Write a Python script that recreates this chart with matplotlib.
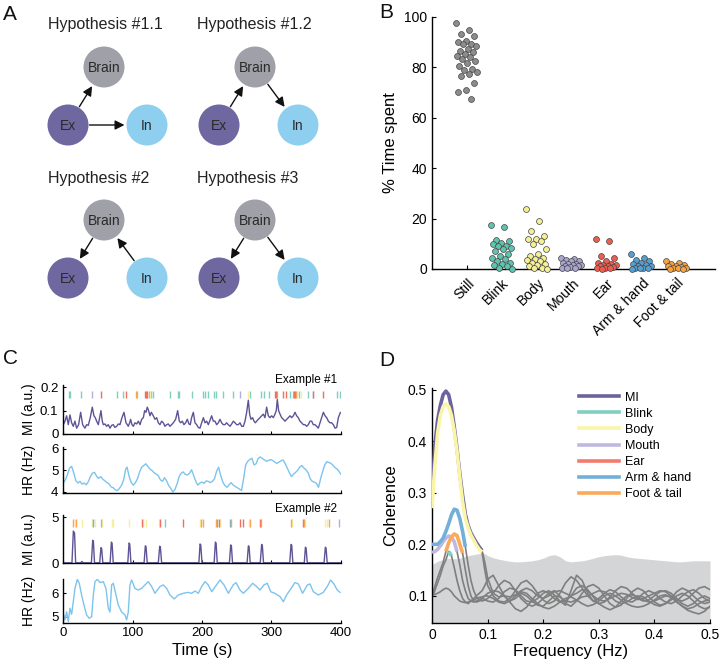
import numpy as np
import matplotlib
matplotlib.use("Agg")
import matplotlib.pyplot as plt
from matplotlib.patches import Circle, FancyArrowPatch
from matplotlib.lines import Line2D

plt.rcParams['font.family'] = ['Liberation Sans', 'DejaVu Sans']
plt.rcParams['xtick.direction'] = 'in'
plt.rcParams['ytick.direction'] = 'in'
plt.rcParams['axes.linewidth'] = 1.0

# ---------------- data ----------------
categories = ['Still', 'Blink', 'Body', 'Mouth', 'Ear', 'Arm & hand', 'Foot & tail']
point_colors = ['#8c8c8c', '#5fc4af', '#f5ef96', '#aaa4d0', '#ef5d50', '#569fd0', '#f7a243']

still_pct = [97.7, 94.7, 93.1, 92.5, 90.3, 90.0, 89.4, 89.3, 88.3, 87.3, 86.7, 86.3, 85.5,
             84.6, 84.0, 83.4, 82.4, 81.7, 80.4, 79.5, 78.8, 78.3, 77.5, 76.7, 74.0, 71.0,
             70.4, 67.6]
blink_pct = [17.5, 16.5, 11.5, 11.0, 10.5, 10.0, 9.0, 9.0, 8.5, 8.0, 7.0, 6.0, 5.0, 4.5,
             4.0, 3.0, 2.5, 2.0, 1.5, 1.0, 0.5, 0.0]
body_pct = [24.0, 19.0, 15.0, 13.0, 12.0, 12.0, 11.0, 10.0, 8.0, 6.0, 5.0, 4.5, 4.0, 3.5,
            3.0, 2.5, 2.0, 1.5, 1.0, 0.5, 0.3, 0.0]
mouth_pct = [4.5, 4.0, 3.5, 3.0, 3.0, 2.5, 2.0, 2.0, 1.5, 1.5, 1.0, 1.0, 0.8, 0.5, 0.3, 0.2]
ear_pct = [12.0, 11.0, 5.0, 4.5, 3.0, 2.5, 2.0, 1.5, 1.5, 1.0, 1.0, 0.8, 0.5, 0.3, 0.2, 0.0]
arm_pct = [6.0, 4.5, 3.5, 3.0, 2.5, 2.0, 1.5, 1.0, 1.0, 0.5, 0.5, 0.3, 0.2, 0.0]
foot_pct = [3.0, 2.5, 2.0, 1.5, 1.2, 1.0, 0.8, 0.5, 0.3, 0.2, 0.1, 0.0]
time_spent = [still_pct, blink_pct, body_pct, mouth_pct, ear_pct, arm_pct, foot_pct]

# Panel C, example 1
mi1_t = [0, 2.4, 4.8, 7.2, 9.6, 12, 14.4, 16.8, 19.2, 22.1, 25, 27.9, 31.2, 33.6, 36, 38.9,
         41.8, 44.2, 46.1, 48.1, 50.5, 52.4, 54.3, 56.2, 57.7, 60.1, 62.5, 64.9, 67.3, 69.7,
         72.1, 74.5, 76.9, 79.3, 81.7, 84.6, 87.5, 90.4, 92.3, 93.7, 95.7, 97.1, 99, 101,
         103.3, 105.8, 108.2, 110.6, 113, 115.4, 117.3, 119.2, 121.1, 123, 125, 126.9, 129.8,
         132.2, 134.6, 137, 139.4, 141.8, 144.2, 146.6, 149, 151.4, 153.8, 156.2, 158.6, 162,
         164.9, 167.3, 169.2, 171.6, 174, 176.4, 178.8, 181.2, 183.1, 185, 187.5, 189.9, 192.3,
         194.7, 197.1, 199.5, 202, 204.3, 206.7, 209.1, 211.5, 213.9, 216.3, 218.7, 221.1,
         223.5, 225.9, 228.3, 230.7, 233.1, 235.5, 237.9, 240.4, 242.8, 245.2, 247.6, 250,
         252.4, 254.8, 257.2, 259.6, 262, 264.4, 266.8, 268.7, 270.6, 273, 275, 276.9, 278.8,
         281.2, 283.6, 286, 288.4, 290.8, 293.2, 295.6, 298, 300.4, 302.8, 305.2, 307.1, 308.6,
         310.5, 312.5, 314.9, 317.3, 319.7, 322.1, 324.5, 326.9, 329.3, 331.7, 334.1, 336.5,
         338.9, 341.3, 343.7, 346.1, 348.5, 350.9, 353.3, 355.7, 358.1, 360.5, 362.9, 365.3,
         367.7, 370.1, 372.5, 375, 377.4, 379.8, 382.2, 384.6, 387, 389.4, 391.8, 394.2, 396.6,
         399.5]
mi1_v = [0.040, 0.055, 0.078, 0.040, 0.082, 0.048, 0.033, 0.055, 0.025, 0.040, 0.093, 0.040,
         0.025, 0.040, 0.037, 0.070, 0.115, 0.078, 0.070, 0.055, 0.040, 0.070, 0.100, 0.055,
         0.040, 0.043, 0.033, 0.040, 0.025, 0.037, 0.040, 0.028, 0.033, 0.043, 0.040, 0.070,
         0.093, 0.048, 0.040, 0.033, 0.048, 0.063, 0.040, 0.033, 0.048, 0.043, 0.055, 0.040,
         0.063, 0.070, 0.100, 0.093, 0.115, 0.100, 0.078, 0.093, 0.078, 0.063, 0.070, 0.048,
         0.040, 0.055, 0.048, 0.033, 0.040, 0.043, 0.033, 0.040, 0.048, 0.063, 0.100, 0.055,
         0.048, 0.055, 0.040, 0.048, 0.063, 0.043, 0.040, 0.070, 0.093, 0.048, 0.040, 0.028,
         0.025, 0.048, 0.070, 0.048, 0.055, 0.040, 0.058, 0.078, 0.055, 0.055, 0.040, 0.048,
         0.063, 0.048, 0.040, 0.040, 0.048, 0.040, 0.033, 0.043, 0.055, 0.048, 0.040, 0.040,
         0.048, 0.033, 0.033, 0.055, 0.093, 0.145, 0.085, 0.063, 0.070, 0.055, 0.048, 0.055,
         0.063, 0.070, 0.078, 0.085, 0.070, 0.115, 0.078, 0.070, 0.078, 0.070, 0.085, 0.100,
         0.148, 0.100, 0.085, 0.070, 0.063, 0.055, 0.063, 0.070, 0.078, 0.070, 0.078, 0.093,
         0.078, 0.070, 0.055, 0.048, 0.040, 0.040, 0.033, 0.040, 0.055, 0.055, 0.040, 0.040,
         0.033, 0.025, 0.048, 0.070, 0.093, 0.078, 0.070, 0.055, 0.048, 0.048, 0.040, 0.025,
         0.028, 0.070, 0.092]

hr1_t = [0, 3, 6, 9, 12, 15, 18, 21, 24, 27, 30, 33, 36, 39, 42, 45, 48, 51, 54, 57, 60, 63,
         66, 69, 72, 75, 78, 81, 84, 87, 90, 92, 95, 98, 101, 104, 107, 110, 113, 116, 119,
         122, 125, 128, 131, 134, 137, 140, 143, 146, 149, 152, 155, 158, 161, 164, 167, 170,
         173, 176, 179, 182, 185, 188, 191, 194, 197, 200, 203, 206, 209, 212, 215, 218, 221,
         224, 227, 230, 233, 236, 239, 242, 245, 248, 251, 254, 257, 260, 263, 266, 269, 272,
         275, 278, 281, 284, 287, 290, 293, 296, 299, 302, 305, 308, 311, 314, 317, 320, 323,
         326, 329, 332, 335, 338, 341, 344, 347, 350, 353, 356, 359, 362, 365, 368, 371, 374,
         377, 380, 383, 386, 389, 392, 395, 398, 400]
hr1_v = [4.40, 4.55, 4.80, 5.10, 5.18, 4.88, 4.52, 4.40, 4.48, 4.35, 4.40, 4.32, 4.46, 4.70,
         4.86, 4.90, 4.72, 4.62, 4.70, 4.58, 4.50, 4.42, 4.36, 4.22, 4.18, 4.08, 4.05, 4.15,
         4.30, 4.55, 5.05, 5.14, 4.70, 4.42, 4.30, 4.42, 4.60, 4.92, 5.14, 5.22, 5.30, 5.18,
         5.05, 4.98, 4.88, 4.82, 4.74, 4.55, 4.48, 4.65, 4.50, 4.28, 4.15, 3.98, 4.10, 4.35,
         4.70, 4.86, 4.92, 4.80, 4.78, 4.86, 5.02, 4.75, 4.48, 4.30, 4.40, 4.45, 4.38, 4.50,
         4.48, 4.42, 4.48, 4.60, 4.95, 5.14, 4.75, 4.45, 4.28, 4.20, 4.32, 4.42, 4.30, 4.24,
         4.18, 4.12, 4.05, 4.60, 5.25, 5.42, 5.50, 5.56, 5.25, 5.30, 5.55, 5.62, 5.55, 5.48,
         5.42, 5.46, 5.50, 5.45, 5.38, 5.32, 5.38, 5.44, 5.48, 5.30, 5.10, 4.88, 4.70, 4.82,
         4.90, 5.00, 5.15, 5.22, 5.10, 5.02, 4.88, 4.60, 4.48, 4.44, 4.38, 4.20, 4.60, 4.95,
         5.25, 5.40, 5.36, 5.32, 5.22, 5.12, 5.05, 4.92, 4.82]

# Panel C, example 2
mi2_t = [0, 12.5, 14.5, 16.2, 17.8, 25, 26.9, 28.5, 40.5, 42.4, 43.4, 45, 52.5, 54.3, 55.3,
         57, 67.5, 69.3, 70.3, 72, 93, 94.8, 95.8, 97.5, 116.5, 118.3, 119.3, 121, 137, 139,
         140, 141.8, 195.5, 197.2, 198.2, 200, 217.5, 219.3, 220.3, 222, 239.5, 241.4, 242.4,
         244, 265, 266.9, 267.9, 269.5, 284, 286, 287, 288.7, 326.5, 328.4, 329.4, 331, 347.5,
         349.1, 350.1, 351.8, 376, 377.9, 378.9, 380.5, 400]
mi2_v = [0.05, 0.05, 3.50, 3.30, 0.05, 0.05, 0.20, 0.05, 0.05, 2.50, 2.40, 0.05, 0.05, 1.70,
         1.60, 0.05, 0.05, 2.30, 2.20, 0.05, 0.05, 2.20, 2.10, 0.05, 0.05, 1.90, 1.80, 0.05,
         0.05, 1.85, 1.75, 0.05, 0.05, 2.10, 2.00, 0.05, 0.05, 2.30, 2.20, 0.05, 0.05, 2.00,
         1.90, 0.05, 0.05, 1.90, 1.80, 0.05, 0.05, 2.05, 1.95, 0.05, 0.05, 2.05, 1.95, 0.05,
         0.05, 1.75, 1.65, 0.05, 0.05, 1.75, 1.65, 0.05, 0.05]

hr2_t = [0, 2.4, 4.8, 7.2, 9.6, 12, 14.4, 16.8, 20.2, 23, 26.4, 29.8, 33.6, 37.5, 40.9, 43.3,
         45.7, 49, 52.9, 57.7, 61.5, 64.9, 67.3, 69.7, 72.1, 76, 79.3, 84.1, 89, 91.3, 93.7,
         96.1, 98.5, 103.4, 108, 112.8, 117.8, 122.6, 127.4, 132.2, 139.4, 144.2, 149, 153.8,
         160, 165.8, 173, 180, 185, 190, 194.7, 199.5, 204.3, 209, 214, 221, 226, 231.7, 238,
         245, 249, 254.8, 259.6, 266.8, 273, 278.8, 283.6, 289.4, 294.2, 299, 305, 312.5,
         317.3, 322, 326.9, 334, 339, 345, 352, 355.7, 360.5, 367.7, 375, 382, 385.3, 390.3,
         395, 399]
hr2_v = [5.14, 4.86, 5.21, 4.79, 5.36, 5.10, 5.64, 6.21, 6.60, 6.43, 5.93, 5.50, 5.07, 4.93,
         5.00, 5.93, 6.50, 6.60, 6.46, 6.50, 6.21, 5.36, 5.20, 6.36, 6.43, 5.93, 5.50, 5.20,
         5.07, 4.86, 5.20, 6.36, 6.57, 6.21, 6.14, 6.21, 6.36, 6.50, 6.29, 6.00, 6.29, 6.36,
         6.21, 5.93, 5.76, 5.93, 6.00, 6.04, 6.00, 6.10, 6.00, 6.29, 6.50, 6.36, 6.07, 6.36,
         6.57, 6.36, 6.00, 6.36, 6.46, 6.14, 6.00, 6.21, 6.43, 6.29, 6.14, 6.36, 6.43, 6.07,
         6.00, 5.86, 5.64, 5.93, 6.14, 6.46, 6.40, 6.00, 6.36, 6.40, 6.07, 5.93, 6.04, 6.36,
         6.57, 6.40, 6.14, 6.04]

# behaviour event times (s)
events1 = {
    'Blink': [8.2, 10.1, 26, 77.9, 86.5, 106.7, 123, 126.9, 128.8, 153.8, 164.9, 167.3, 185,
              201.9, 204.6, 208, 216.7, 220, 230.1, 244, 269.5, 285.3, 288.7, 296.4, 308.8, 327,
              330.7, 339.4, 353.4, 394.2, 399],
    'Body': [125, 266, 337.5, 342.3],
    'Mouth': [41.3, 255, 360.6],
    'Ear': [53.8, 90.4, 117.3, 119.2, 121.1, 305, 307, 316.3, 321.1, 332.7, 334.6, 360, 375],
    'Arm & hand': [],
    'Foot & tail': [104.8, 336],
}
events2 = {
    'Blink': [146.1],
    'Body': [16.3, 26.9, 41.3, 45.2, 55.8, 69.7, 72.1, 95.2, 115.4, 119.2, 137.5, 197.1,
             225.9, 267.3, 329.8, 349, 377.4, 379.8],
    'Mouth': [53.8, 398],
    'Ear': [113.4, 139.4, 172.1, 224, 254.8, 258.6, 283.6, 345.1],
    'Arm & hand': [43.3, 222.1, 240.4],
    'Foot & tail': [14.4, 18.3, 199, 201, 220.2, 242.3, 269.2, 285.5, 327.8, 347.1, 382.6],
}
event_colors = {'Blink': '#7fd0c0', 'Body': '#f8ef9a', 'Mouth': '#b4aedb', 'Ear': '#f0705f',
                'Arm & hand': '#73b0d9', 'Foot & tail': '#f9a650'}

# Panel D, coherence
freq = [0, 0.005, 0.01, 0.015, 0.02, 0.025, 0.03, 0.035, 0.04, 0.045, 0.05, 0.055, 0.06,
        0.065, 0.07, 0.075, 0.08, 0.085, 0.09, 0.095, 0.1,
        0.11, 0.12, 0.13, 0.14, 0.15, 0.16, 0.17, 0.18, 0.19, 0.2, 0.21, 0.22, 0.23, 0.24,
        0.25, 0.26, 0.27, 0.28, 0.29, 0.3, 0.31, 0.32, 0.33, 0.34, 0.35, 0.36, 0.37, 0.38,
        0.39, 0.4, 0.41, 0.42, 0.43, 0.44, 0.45, 0.46, 0.47, 0.48, 0.49, 0.5]
shuffle_band = [0.160, 0.164, 0.167, 0.169, 0.170, 0.172, 0.173, 0.172, 0.172, 0.172, 0.173,
                0.175, 0.177, 0.178, 0.179, 0.180, 0.181, 0.182, 0.183, 0.182, 0.178,
                0.174, 0.171, 0.169, 0.167, 0.166, 0.166, 0.167, 0.168, 0.170, 0.173, 0.178,
                0.180, 0.176, 0.168, 0.166, 0.167, 0.168, 0.170, 0.173, 0.176, 0.178, 0.179,
                0.180, 0.179, 0.176, 0.174, 0.173, 0.172, 0.171, 0.170, 0.169, 0.168, 0.167,
                0.166, 0.166, 0.167, 0.168, 0.168, 0.168, 0.168]
coh_mi = [0.290, 0.390, 0.440, 0.469, 0.490, 0.497, 0.490, 0.466, 0.428, 0.385, 0.337, 0.295,
          0.258, 0.236, 0.222, 0.212, 0.203, 0.195, 0.188, 0.165, 0.135,
          0.105, 0.098, 0.100, 0.098, 0.102, 0.110, 0.115, 0.110, 0.100, 0.095, 0.100, 0.108,
          0.110, 0.105, 0.100, 0.105, 0.112, 0.110, 0.100, 0.092, 0.090, 0.095, 0.100, 0.105,
          0.103, 0.097, 0.093, 0.095, 0.100, 0.105, 0.110, 0.108, 0.100, 0.093, 0.090, 0.095,
          0.105, 0.115, 0.118, 0.112]
coh_blink = [0.095, 0.110, 0.125, 0.140, 0.158, 0.170, 0.186, 0.178, 0.155, 0.130, 0.110,
             0.095, 0.088, 0.085, 0.090, 0.095, 0.100, 0.105, 0.110, 0.120, 0.132,
             0.140, 0.120, 0.100, 0.090, 0.095, 0.105, 0.100, 0.090, 0.082, 0.080, 0.090,
             0.100, 0.098, 0.090, 0.088, 0.092, 0.098, 0.100, 0.105, 0.110, 0.108, 0.100,
             0.090, 0.085, 0.088, 0.095, 0.100, 0.098, 0.090, 0.083, 0.080, 0.085, 0.092,
             0.100, 0.105, 0.100, 0.090, 0.080, 0.075, 0.078]
coh_body = [0.270, 0.350, 0.415, 0.450, 0.467, 0.472, 0.467, 0.450, 0.420, 0.380, 0.330,
            0.283, 0.250, 0.232, 0.218, 0.208, 0.198, 0.190, 0.185, 0.150, 0.120,
            0.100, 0.090, 0.088, 0.095, 0.110, 0.125, 0.130, 0.120, 0.105, 0.092, 0.085,
            0.090, 0.105, 0.125, 0.137, 0.130, 0.115, 0.100, 0.090, 0.085, 0.088, 0.098,
            0.110, 0.118, 0.115, 0.105, 0.095, 0.090, 0.092, 0.100, 0.108, 0.110, 0.105,
            0.095, 0.085, 0.080, 0.085, 0.095, 0.100, 0.095]
coh_mouth = [0.184, 0.186, 0.190, 0.197, 0.205, 0.212, 0.216, 0.214, 0.205, 0.186, 0.160,
             0.130, 0.110, 0.095, 0.090, 0.088, 0.090, 0.093, 0.095, 0.093, 0.090,
             0.088, 0.095, 0.108, 0.115, 0.112, 0.100, 0.090, 0.088, 0.095, 0.105, 0.110,
             0.102, 0.090, 0.082, 0.110, 0.140, 0.130, 0.105, 0.090, 0.095, 0.105, 0.112,
             0.108, 0.098, 0.090, 0.088, 0.095, 0.105, 0.110, 0.105, 0.095, 0.088, 0.085,
             0.090, 0.100, 0.108, 0.112, 0.105, 0.095, 0.090]
coh_ear = [0.100, 0.103, 0.105, 0.108, 0.112, 0.115, 0.113, 0.108, 0.100, 0.095, 0.090,
           0.088, 0.087, 0.088, 0.090, 0.092, 0.095, 0.097, 0.098, 0.100, 0.100,
           0.095, 0.088, 0.085, 0.090, 0.100, 0.108, 0.105, 0.095, 0.085, 0.078, 0.075,
           0.080, 0.088, 0.095, 0.098, 0.092, 0.085, 0.080, 0.083, 0.090, 0.100, 0.105,
           0.100, 0.092, 0.085, 0.080, 0.078, 0.080, 0.085, 0.092, 0.100, 0.102, 0.097,
           0.088, 0.080, 0.075, 0.078, 0.085, 0.090, 0.092]
coh_arm = [0.200, 0.200, 0.200, 0.205, 0.212, 0.225, 0.240, 0.257, 0.268, 0.266, 0.250,
           0.225, 0.195, 0.160, 0.130, 0.110, 0.098, 0.092, 0.090, 0.092, 0.095,
           0.105, 0.120, 0.130, 0.125, 0.110, 0.095, 0.085, 0.080, 0.085, 0.095, 0.105,
           0.110, 0.100, 0.085, 0.080, 0.090, 0.105, 0.118, 0.122, 0.115, 0.100, 0.085,
           0.078, 0.082, 0.095, 0.108, 0.115, 0.110, 0.098, 0.088, 0.082, 0.085, 0.095,
           0.108, 0.115, 0.110, 0.100, 0.090, 0.085, 0.088]
coh_foot = [0.100, 0.118, 0.135, 0.150, 0.165, 0.186, 0.203, 0.214, 0.220, 0.217, 0.200,
            0.183, 0.150, 0.120, 0.100, 0.090, 0.088, 0.090, 0.095, 0.100, 0.105,
            0.110, 0.108, 0.100, 0.088, 0.075, 0.070, 0.078, 0.092, 0.105, 0.110, 0.105,
            0.095, 0.088, 0.090, 0.100, 0.115, 0.120, 0.112, 0.098, 0.085, 0.078, 0.073,
            0.078, 0.090, 0.100, 0.102, 0.098, 0.092, 0.088, 0.090, 0.095, 0.100, 0.098,
            0.090, 0.080, 0.072, 0.068, 0.065, 0.070, 0.080]
coh_labels = ['MI', 'Blink', 'Body', 'Mouth', 'Ear', 'Arm & hand', 'Foot & tail']
coh_curves = [coh_mi, coh_blink, coh_body, coh_mouth, coh_ear, coh_arm, coh_foot]
coh_colors = ['#6b629e', '#7fd0c0', '#fbf5a8', '#c0b8e0', '#f37b6b', '#73b0d9', '#fba95b']

# ---------------- figure ----------------
fig = plt.figure(figsize=(7.24, 6.65), dpi=100)
W, H = 724, 665

def px_axes(left, top, right, bottom):
    return fig.add_axes([left / W, 1 - bottom / H, (right - left) / W, (bottom - top) / H])

def clean(ax):
    ax.spines['top'].set_visible(False)
    ax.spines['right'].set_visible(False)
    ax.tick_params(labelsize=10, length=3, width=0.8)

# ---- panel A (drawn in pixel coordinates) ----
ax_a = fig.add_axes([0, 0, 1, 1])
ax_a.set_xlim(0, W)
ax_a.set_ylim(H, 0)
ax_a.axis('off')

node_col = {'Brain': '#a0a0a8', 'Ex': '#6f68a0', 'In': '#8ecff0'}
r = 20.5
diagrams = [
    ('Hypothesis #1.1', 48, 25, (0, 0), [('Ex', 'Brain'), ('Ex', 'In')]),
    ('Hypothesis #1.2', 197, 25, (151, 0), [('Ex', 'Brain'), ('Brain', 'In')]),
    ('Hypothesis #2', 48, 178, (0, 153), [('Brain', 'Ex'), ('In', 'Brain')]),
    ('Hypothesis #3', 197, 178, (151, 153), [('Brain', 'Ex'), ('Brain', 'In')]),
]
base = {'Brain': (104, 67), 'Ex': (68, 125), 'In': (147, 125)}
for title, tx, ty, (dx, dy), arrows in diagrams:
    ax_a.text(tx, ty, title, fontsize=11.5, ha='left', va='center', color='#222222')
    pos = {k: (x + dx, y + dy) for k, (x, y) in base.items()}
    for name, (cx, cy) in pos.items():
        ax_a.add_patch(Circle((cx, cy), r, color=node_col[name], lw=0))
        ax_a.text(cx, cy + 1, name, fontsize=10, ha='center', va='center', color='#2a2a2a')
    for a, b in arrows:
        p0 = np.array(pos[a], float)
        p1 = np.array(pos[b], float)
        u = (p1 - p0) / np.linalg.norm(p1 - p0)
        s = p0 + u * (r + 1)
        e = p1 - u * (r + 2)
        ax_a.add_patch(FancyArrowPatch(s, e, arrowstyle='-|>', mutation_scale=14,
                                       color='#111111', lw=1.0, shrinkA=0, shrinkB=0))

for letter, x, y in [('A', 10, 14), ('B', 386, 13), ('C', 10, 358), ('D', 387, 360)]:
    ax_a.text(x, y, letter, fontsize=15, ha='center', va='center', color='#111111')

# ---- panel B ----
ax_b = px_axes(432, 17, 715, 269)
clean(ax_b)
xpos = np.arange(1, len(categories) + 1)
for i, vals in enumerate(time_spent):
    vals = np.array(vals)
    jit = ((np.arange(len(vals)) * 0.618034) % 1 - 0.5) * 0.6
    ax_b.scatter(xpos[i] + jit, vals, s=18, color=point_colors[i], edgecolor='#444444',
                 linewidth=0.5, zorder=3, clip_on=False)
ax_b.set_xlim(0, 8.09)
ax_b.set_ylim(0, 100)
ax_b.set_yticks([0, 20, 40, 60, 80, 100])
ax_b.set_xticks(xpos)
ax_b.set_xticklabels(categories, rotation=45, ha='right', rotation_mode='anchor')
ax_b.tick_params(axis='x', pad=5)
ax_b.set_ylabel('% Time spent', fontsize=12)
ax_b.yaxis.set_label_coords(-0.12, 0.5)

# ---- panel C ----
mi_col = '#5d5496'
hr_col = '#7cc4ee'
ax_c1 = px_axes(63.3, 385, 340.7, 434)
ax_c2 = px_axes(63.3, 446.7, 340.7, 493.3)
ax_c3 = px_axes(63.3, 515, 340.7, 563.3)
ax_c4 = px_axes(63.3, 579.3, 340.7, 622.5)
for ax in (ax_c1, ax_c2, ax_c3, ax_c4):
    clean(ax)
    ax.tick_params(labelsize=9.5, length=2.5)
    ax.set_xlim(0, 400)
    ax.set_xticks([0, 100, 200, 300, 400])

for name, times in events1.items():
    ax_c1.vlines(times, 0.155, 0.185, color=event_colors[name], lw=1.0)
ax_c1.plot(mi1_t, mi1_v, color=mi_col, lw=1.0)
ax_c1.set_ylim(0, 0.21)
ax_c1.set_yticks([0, 0.1, 0.2], ['0', '0.1', '0.2'])
ax_c1.set_xticklabels([])
ax_c1.text(0.987, 1.10, 'Example #1', transform=ax_c1.transAxes, ha='right', va='center',
           fontsize=8.5)

ax_c2.plot(hr1_t, hr1_v, color=hr_col, lw=1.0)
ax_c2.set_ylim(3.92, 6.1)
ax_c2.set_yticks([4, 5, 6], ['4', '5', '6'])
ax_c2.set_xticklabels([])

for name, times in events2.items():
    ax_c3.vlines(times, 3.9, 4.8, color=event_colors[name], lw=1.0)
ax_c3.plot(mi2_t, mi2_v, color=mi_col, lw=1.0)
ax_c3.set_ylim(0, 5.25)
ax_c3.set_yticks([0, 5], ['0', '5'])
ax_c3.set_xticklabels([])
ax_c3.text(0.987, 1.124, 'Example #2', transform=ax_c3.transAxes, ha='right', va='center',
           fontsize=8.5)

ax_c4.plot(hr2_t, hr2_v, color=hr_col, lw=1.0)
ax_c4.set_ylim(4.75, 6.6)
ax_c4.set_yticks([5, 6], ['5', '6'])
ax_c4.set_xlabel('Time (s)', fontsize=12)
ax_c4.xaxis.set_label_coords(0.5, -0.48)

for ax, lab in ((ax_c1, 'MI (a.u.)'), (ax_c2, 'HR (Hz)'), (ax_c3, 'MI (a.u.)'), (ax_c4, 'HR (Hz)')):
    ax.set_ylabel(lab, fontsize=10)
    ax.yaxis.set_label_coords(-0.098, 0.5)

# ---- panel D ----
ax_d = px_axes(432, 388, 710, 622.7)
clean(ax_d)
f = np.array(freq)
band = np.array(shuffle_band)
ax_d.fill_between(f, 0, band, color='#d4d5d7', lw=0, zorder=1)
for c in coh_curves:
    ax_d.plot(f, c, color='#7f7f7f', lw=1.2, zorder=2)
for c, col in zip(coh_curves, coh_colors):
    c = np.array(c)
    ax_d.plot(f, np.where(c > band, c, np.nan), color=col, lw=2.6, zorder=3,
              solid_capstyle='butt')
ax_d.set_xlim(0, 0.5)
ax_d.set_ylim(0.048, 0.503)
ax_d.set_xticks([0, 0.1, 0.2, 0.3, 0.4, 0.5], ['0', '0.1', '0.2', '0.3', '0.4', '0.5'])
ax_d.set_yticks([0.1, 0.2, 0.3, 0.4, 0.5], ['0.1', '0.2', '0.3', '0.4', '0.5'])
ax_d.set_xlabel('Frequency (Hz)', fontsize=12)
ax_d.xaxis.set_label_coords(0.5, -0.092)
ax_d.set_ylabel('Coherence', fontsize=12)
ax_d.yaxis.set_label_coords(-0.122, 0.5)
handles = [Line2D([], [], color=col, lw=2.6) for col in coh_colors]
ax_d.legend(handles, coh_labels, loc='upper left', bbox_to_anchor=(0.529, 0.985),
            frameon=False, fontsize=9, handlelength=3.2, handletextpad=0.5,
            labelspacing=0.33, borderaxespad=0, borderpad=0)

fig.savefig('out.png', dpi=100)
